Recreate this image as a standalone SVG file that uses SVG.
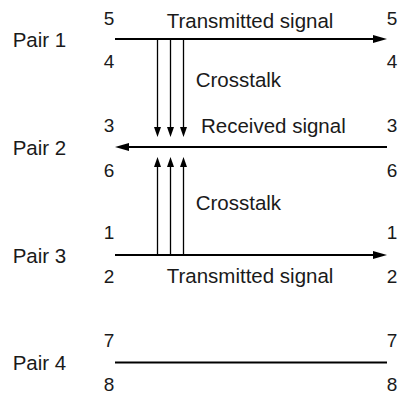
<svg xmlns="http://www.w3.org/2000/svg" width="398" height="393" viewBox="0 0 398 393">
<style>
text{font-family:"Liberation Sans",Arial,Helvetica,sans-serif;fill:#1a1a1a}
.lbl{font-size:20.5px}
.num{font-size:19px;text-anchor:middle}
.wire{stroke:#000;stroke-width:2.2;fill:none}
.xt{stroke:#000;stroke-width:1.3;fill:none}
</style>
<defs>
<marker id="ah" markerUnits="userSpaceOnUse" markerWidth="14" markerHeight="8" refX="4" refY="4" orient="auto"><path d="M0,0 L14,4 L0,8 z" fill="#000"/></marker>
<marker id="ahs" markerUnits="userSpaceOnUse" markerWidth="10" markerHeight="7" refX="3" refY="3.5" orient="auto"><path d="M0,0 L10,3.5 L0,7 z" fill="#000"/></marker>
</defs>
<g id="pair1">
<text class="lbl" x="12.7" y="47">Pair 1</text>
<text class="num" x="109" y="25">5</text>
<text class="num" x="109" y="68">4</text>
<text class="num" x="392" y="25">5</text>
<text class="num" x="392" y="68">4</text>
<text class="lbl" x="166.7" y="28">Transmitted signal</text>
</g>
<g id="pair2">
<text class="lbl" x="12.7" y="155">Pair 2</text>
<text class="num" x="109" y="132">3</text>
<text class="num" x="109" y="177">6</text>
<text class="num" x="392" y="132">3</text>
<text class="num" x="392" y="177">6</text>
<text class="lbl" x="201" y="133">Received signal</text>
</g>
<g id="pair3">
<text class="lbl" x="12.7" y="263">Pair 3</text>
<text class="num" x="109" y="239">1</text>
<text class="num" x="109" y="283">2</text>
<text class="num" x="392" y="239">1</text>
<text class="num" x="392" y="283">2</text>
<text class="lbl" x="166.7" y="283">Transmitted signal</text>
</g>
<g id="pair4">
<text class="lbl" x="12.7" y="370">Pair 4</text>
<text class="num" x="109" y="347">7</text>
<text class="num" x="109" y="390.5">8</text>
<text class="num" x="392" y="347">7</text>
<text class="num" x="392" y="390.5">8</text>
</g>
<g id="crosstalk-labels">
<text class="lbl" x="195.7" y="87">Crosstalk</text>
<text class="lbl" x="195.7" y="210">Crosstalk</text>
</g>
<g id="connectors">
<line class="wire" x1="115" y1="39" x2="377" y2="39" marker-end="url(#ah)"/>
<line class="wire" x1="387" y1="147" x2="125" y2="147" marker-end="url(#ah)"/>
<line class="wire" x1="115" y1="255" x2="377" y2="255" marker-end="url(#ah)"/>
<line class="wire" x1="115" y1="362.5" x2="387" y2="362.5"/>
<line class="xt" x1="157.5" y1="40" x2="157.5" y2="130" marker-end="url(#ahs)"/>
<line class="xt" x1="170.5" y1="40" x2="170.5" y2="130" marker-end="url(#ahs)"/>
<line class="xt" x1="183.5" y1="40" x2="183.5" y2="130" marker-end="url(#ahs)"/>
<line class="xt" x1="157.5" y1="254" x2="157.5" y2="164" marker-end="url(#ahs)"/>
<line class="xt" x1="170.5" y1="254" x2="170.5" y2="164" marker-end="url(#ahs)"/>
<line class="xt" x1="183.5" y1="254" x2="183.5" y2="164" marker-end="url(#ahs)"/>
</g>
</svg>
